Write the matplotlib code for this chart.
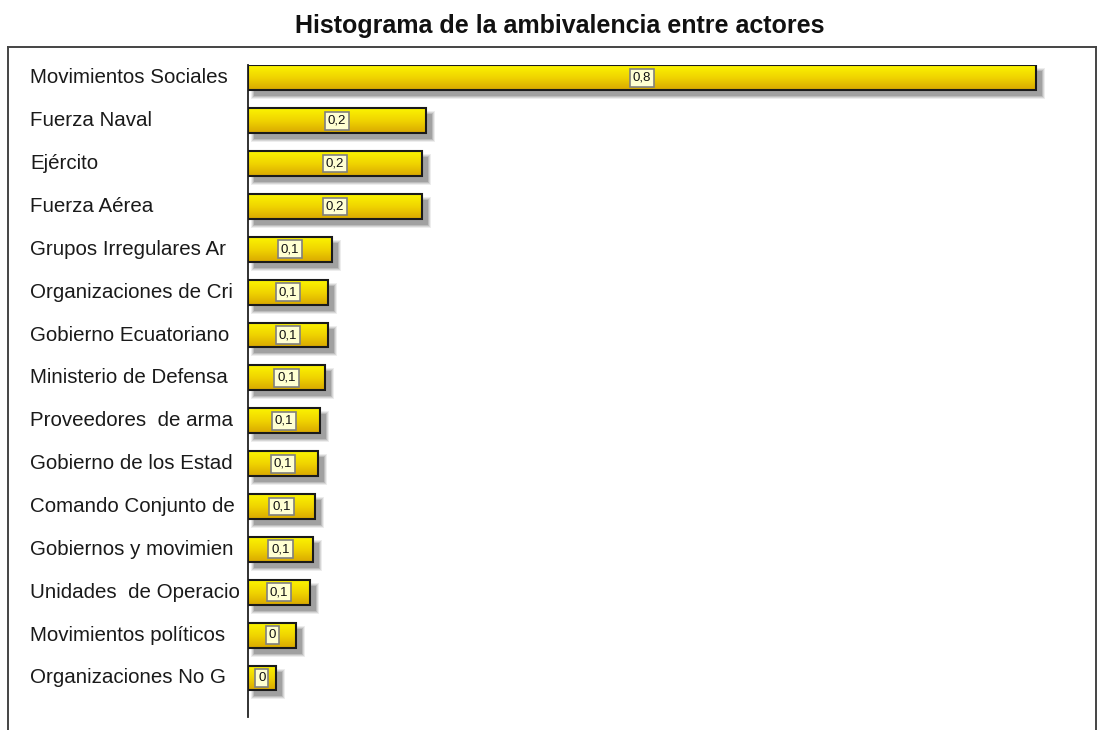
import matplotlib
matplotlib.use("Agg")
import matplotlib.pyplot as plt
import numpy as np
from matplotlib.patches import Rectangle
from matplotlib.colors import LinearSegmentedColormap
from matplotlib.lines import Line2D

categories = [
    "Movimientos Sociales", "Fuerza Naval", "Ejército", "Fuerza Aérea",
    "Grupos Irregulares Ar", "Organizaciones de Cri", "Gobierno Ecuatoriano",
    "Ministerio de Defensa", "Proveedores  de arma", "Gobierno de los Estad",
    "Comando Conjunto de", "Gobiernos y movimien", "Unidades  de Operacio",
    "Movimientos políticos", "Organizaciones No G",
]
values = [0.800, 0.181, 0.177, 0.177, 0.085, 0.081, 0.081, 0.078,
          0.073, 0.071, 0.068, 0.066, 0.063, 0.049, 0.028]
value_labels = ["0,8", "0,2", "0,2", "0,2", "0,1", "0,1", "0,1", "0,1",
                "0,1", "0,1", "0,1", "0,1", "0,1", "0", "0"]
title = "Histograma de la ambivalencia entre actores"

W, H = 1103, 730
fig = plt.figure(figsize=(W / 100, H / 100), dpi=100)
fig.patch.set_facecolor("white")

# axes placement in pixels
ax_l, ax_r, ax_t, ax_b = 248, 1096, 65, 717
ax = fig.add_axes([ax_l / W, 1 - ax_b / H, (ax_r - ax_l) / W, (ax_b - ax_t) / H])
xmax = 0.861
ymin, ymax = -0.30, 14.91

px_x = xmax / (ax_r - ax_l)
px_y = (ymax - ymin) / (ax_b - ax_t)

cmap = LinearSegmentedColormap.from_list("g", ["#fbf400", "#f0d400", "#d9a800"])
grad = np.linspace(0, 1, 64).reshape(-1, 1)
bh = 0.58
for i, (v, lab) in enumerate(zip(values, value_labels)):
    # soft shadow
    for off, grow, a in [(6, 3, 0.12), (6, 2, 0.18), (6, 1, 0.25), (6, 0, 0.35)]:
        ax.add_patch(Rectangle((off * px_x - grow * px_x,
                                i - bh / 2 + off * px_y - grow * px_y),
                               v + 2 * grow * px_x, bh + 2 * grow * px_y,
                               facecolor="#707070", edgecolor="none",
                               alpha=a, zorder=1))
    rect = Rectangle((0, i - bh / 2), v, bh, facecolor="none",
                     edgecolor="#1a1a1a", linewidth=1.5, zorder=3)
    ax.add_patch(rect)
    im = ax.imshow(grad, cmap=cmap, aspect="auto", origin="upper",
                   extent=(0, v, i + bh / 2, i - bh / 2), zorder=2,
                   interpolation="bilinear")
    clip = Rectangle((0, i - bh / 2), v, bh, transform=ax.transData)
    im.set_clip_path(clip)
    ax.text(v / 2, i, lab, ha="center", va="center", fontsize=9.5,
            family="Liberation Sans", color="#111111", zorder=4,
            bbox=dict(boxstyle="square,pad=0.22", facecolor="#ffffd2",
                      edgecolor="#808080", linewidth=1.2))
    fig.text(30 / W, 1 - (ax_t + (i - ymin) / px_y) / H, categories[i],
             ha="left", va="center", fontsize=14.8, family="Liberation Sans",
             color="#1a1a1a")

ax.set_xlim(0, xmax)
ax.set_ylim(ymax, ymin)
for s in ["top", "right", "bottom"]:
    ax.spines[s].set_visible(False)
ax.spines["left"].set_color("#222222")
ax.spines["left"].set_linewidth(1.3)
ax.set_xticks([])
ax.set_yticks([])
ax.patch.set_alpha(0)

# outer frame
fx = lambda p: p / W
fy = lambda p: 1 - p / H
frame_kw = dict(color="#444444", linewidth=1.4, transform=fig.transFigure)
fig.add_artist(Line2D([fx(8), fx(8)], [fy(47), fy(735)], **frame_kw))
fig.add_artist(Line2D([fx(8), fx(1096)], [fy(47), fy(47)], **frame_kw))
fig.add_artist(Line2D([fx(1096), fx(1096)], [fy(47), fy(735)], **frame_kw))

fig.text(560 / W, 1 - 33 / H, title, ha="center", va="baseline", fontsize=18,
         fontweight="bold", family="Liberation Sans", color="#111111")

fig.savefig("out.png", dpi=100)
